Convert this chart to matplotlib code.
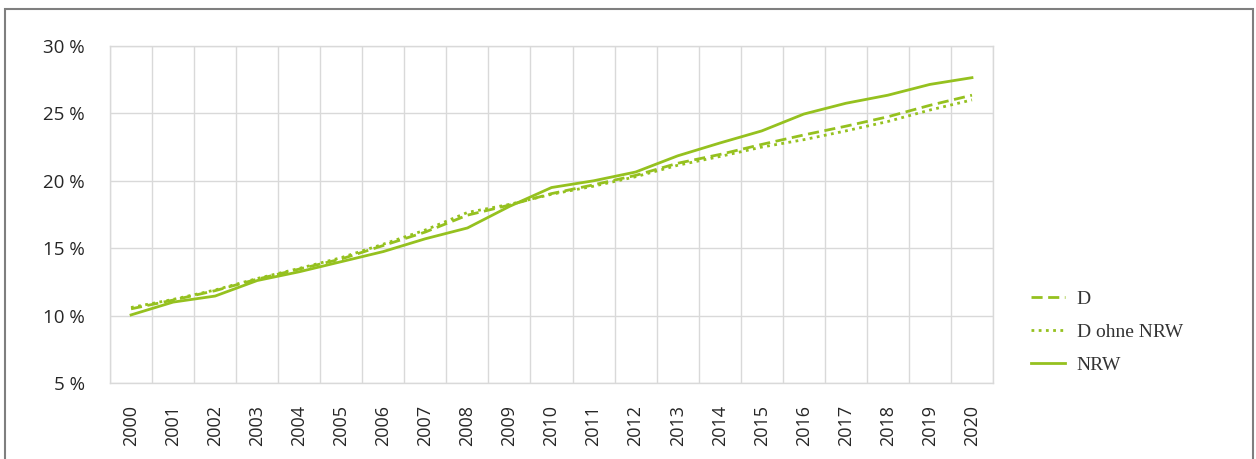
import numpy as np
import matplotlib.pyplot as plt
from matplotlib.patches import Rectangle

jahre = [str(j) for j in range(2000, 2021)]

d = [10.5, 11.15, 11.85, 12.7, 13.45, 14.2, 15.2, 16.2, 17.45, 18.2, 19.05,
     19.7, 20.4, 21.3, 21.95, 22.7, 23.4, 24.05, 24.75, 25.6, 26.35]
d_ohne_nrw = [10.6, 11.2, 11.9, 12.75, 13.5, 14.3, 15.3, 16.35, 17.65, 18.25, 19.0,
              19.6, 20.3, 21.15, 21.8, 22.5, 23.05, 23.7, 24.4, 25.25, 26.0]
nrw = [10.05, 11.0, 11.45, 12.6, 13.25, 14.0, 14.75, 15.7, 16.5, 18.1, 19.5,
       20.0, 20.65, 21.85, 22.8, 23.7, 24.95, 25.75, 26.35, 27.15, 27.65]

gruen = '#95c11f'
grau = '#d9d9d9'

fig = plt.figure(figsize=(12.56, 4.59), dpi=100)
ax = fig.add_axes([0.0876, 0.1656, 0.7030, 0.7342])

x = np.arange(len(jahre))
ax.plot(x, d, color=gruen, lw=2.0, ls=(0, (4, 2)), label='D')
ax.plot(x, d_ohne_nrw, color=gruen, lw=2.0, ls=(0, (1, 1.6)), label='D ohne NRW')
ax.plot(x, nrw, color=gruen, lw=2.0, ls='-', label='NRW')

ax.set_xlim(-0.5, len(jahre) - 0.5)
ax.set_ylim(5, 30)
ax.set_yticks(range(5, 31, 5))
ax.set_yticklabels([f'{v} %' for v in range(5, 31, 5)])
ax.set_xticks(x)
ax.set_xticklabels(jahre, rotation=90)
ax.set_xticks(np.arange(-0.5, len(jahre)), minor=True)

ax.grid(False)
ax.grid(True, which='minor', axis='x', color=grau, lw=1)
ax.grid(True, which='major', axis='y', color=grau, lw=1)
ax.set_axisbelow(True)
ax.tick_params(which='both', length=0)
ax.tick_params(axis='y', pad=18, labelsize=13.5, labelcolor='#262626')
ax.tick_params(axis='x', pad=16, labelsize=13, labelcolor='#262626')
for lab in ax.get_xticklabels() + ax.get_yticklabels():
    lab.set_fontfamily('Open Sans')
for s in ax.spines.values():
    s.set_color(grau)
    s.set_linewidth(1)

fig.legend(loc='center left', bbox_to_anchor=(0.807, 0.276), frameon=False,
           prop={'family': 'Liberation Serif', 'size': 14}, handlelength=1.75,
           labelspacing=0.8, handletextpad=0.6, labelcolor='#333333')

fig.patches.append(Rectangle((5 / 1256, -0.1), 1248 / 1256, 1.1 - 9 / 459,
                             transform=fig.transFigure, fill=False,
                             edgecolor='#7f7f7f', lw=1.5))

fig.savefig('out.png', dpi=100)
